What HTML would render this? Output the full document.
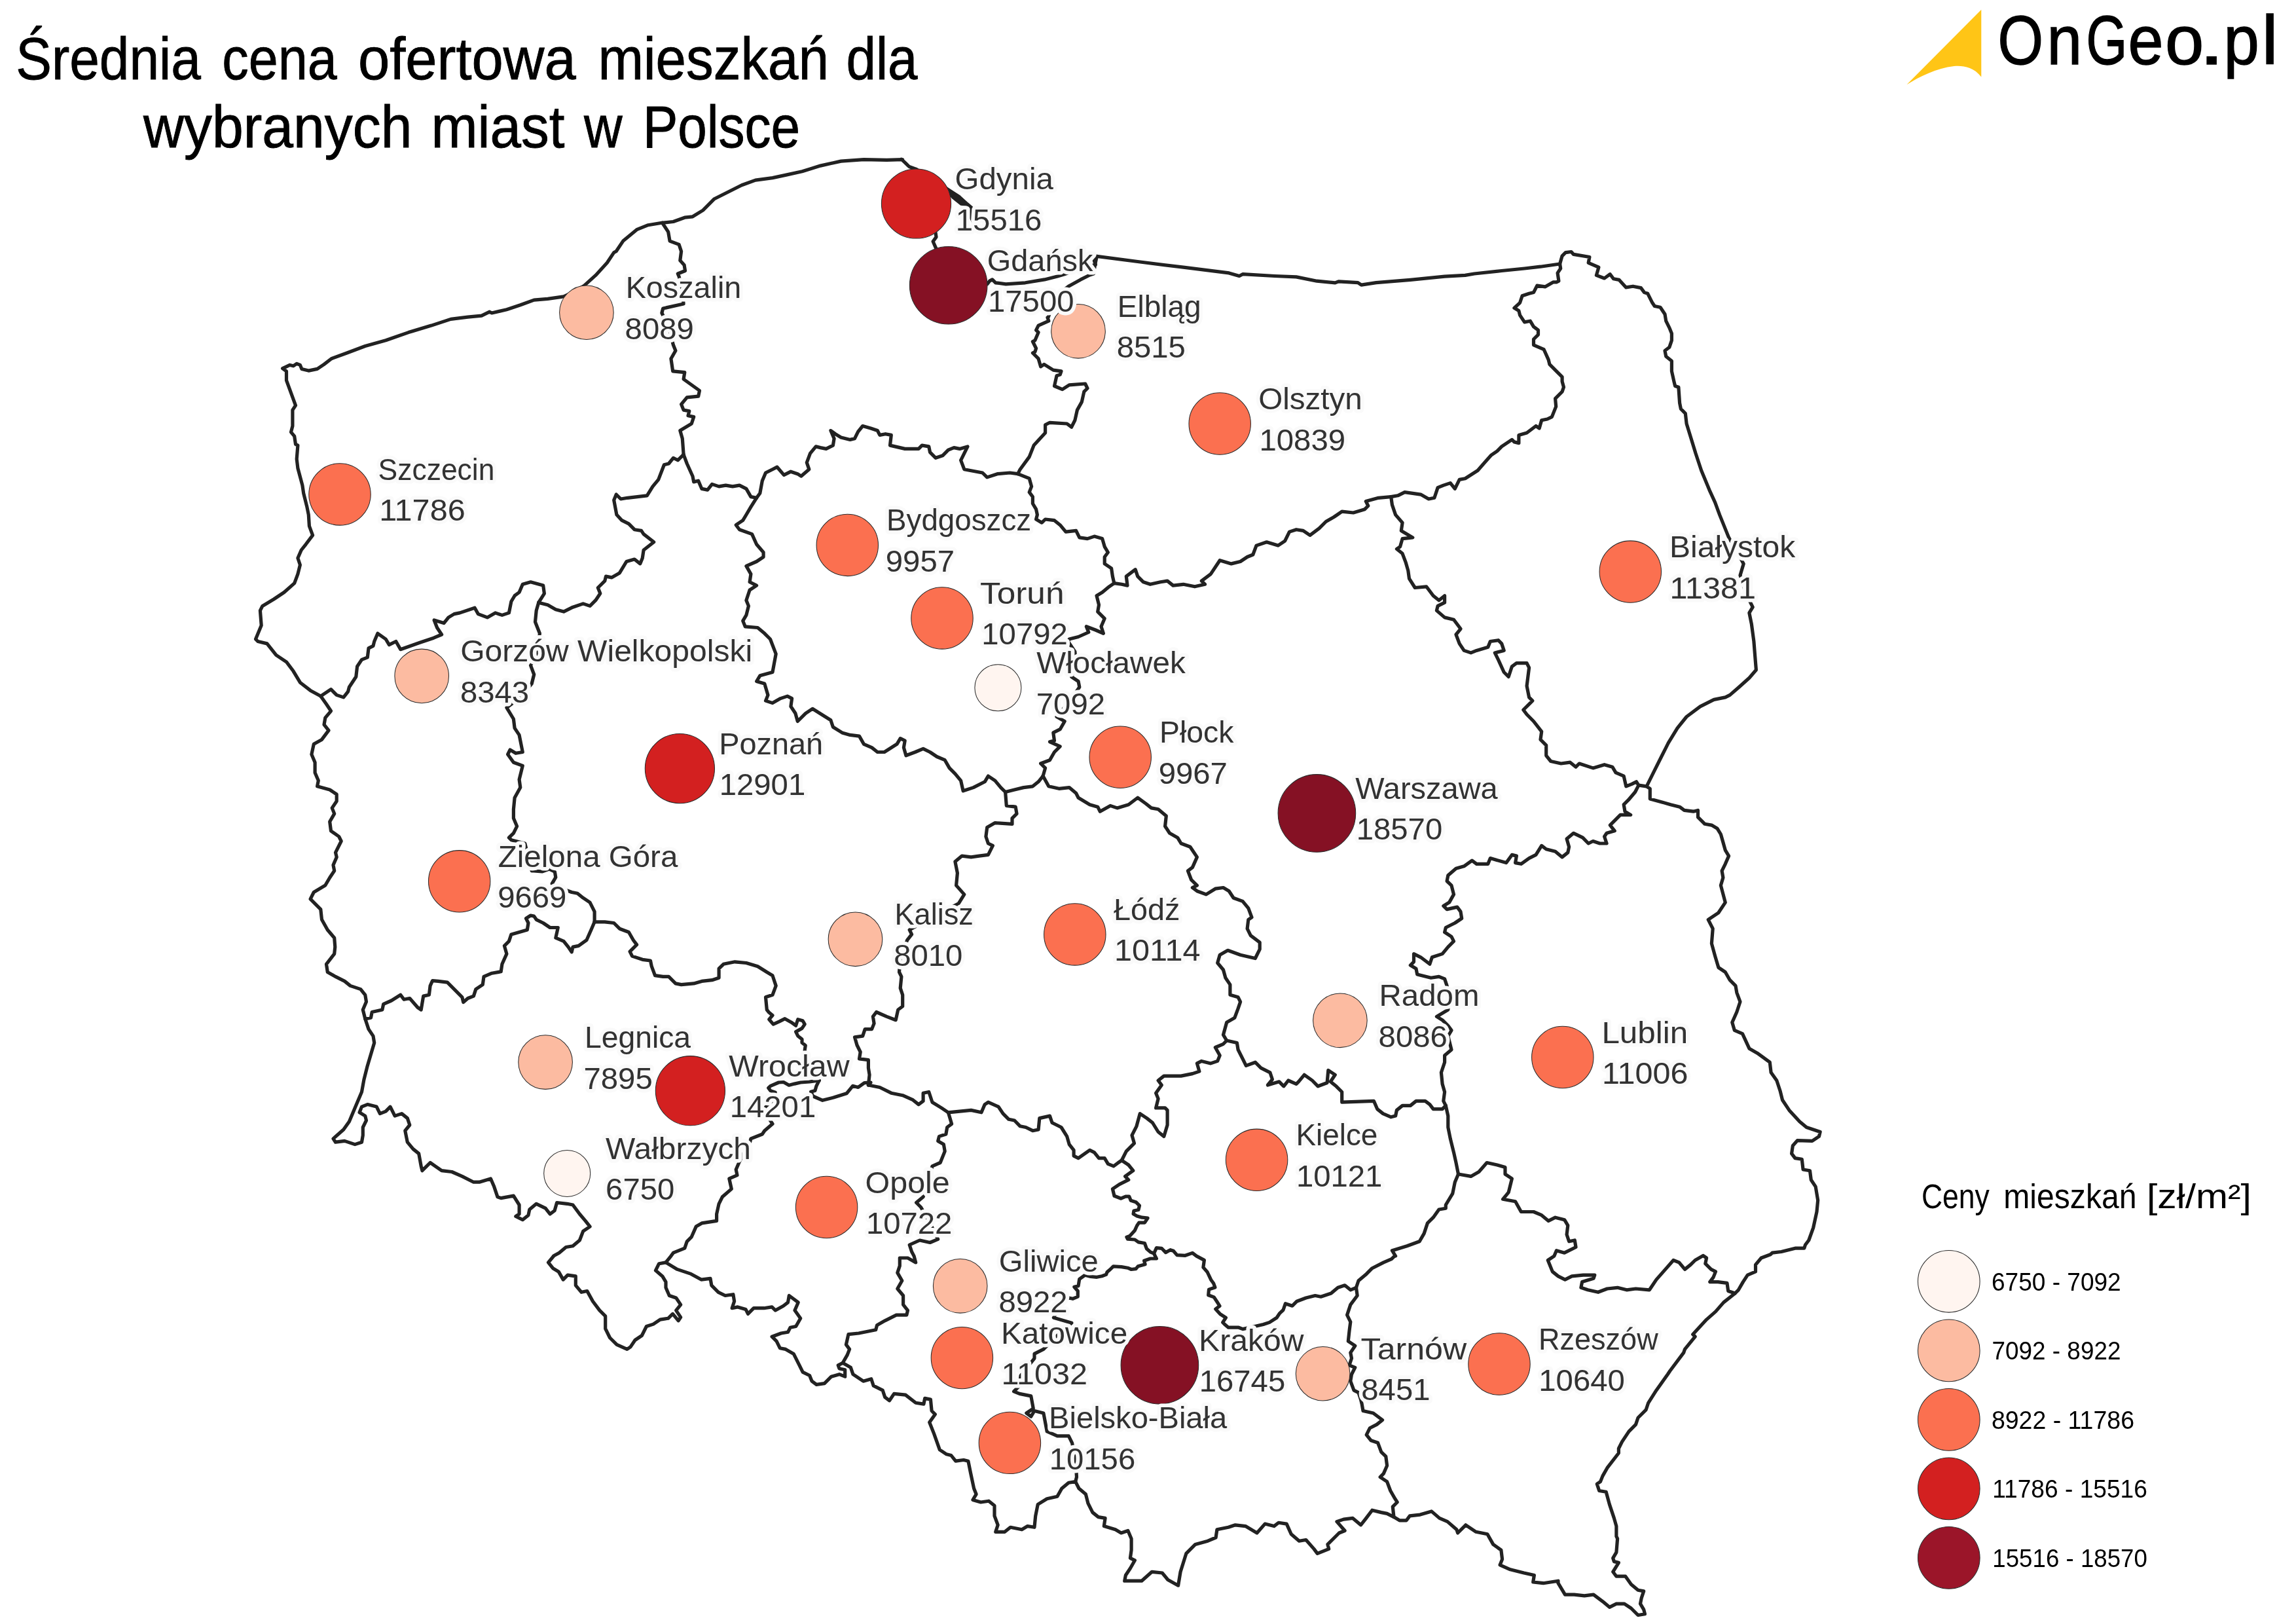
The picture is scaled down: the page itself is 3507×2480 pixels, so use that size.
<!DOCTYPE html>
<html lang="pl"><head><meta charset="utf-8"><title>Średnia cena ofertowa mieszkań dla wybranych miast w Polsce - OnGeo.pl</title>
<style>
html,body{margin:0;padding:0;background:#fff;}
body{width:3507px;height:2480px;overflow:hidden;}
svg{display:block;will-change:transform;}
text{font-family:"Liberation Sans","DejaVu Sans",sans-serif;}
.b{fill:none;stroke:#222;stroke-width:5.2;stroke-linejoin:round;stroke-linecap:round;}
.c{stroke:#2a2a2a;stroke-width:1.05;}
.lab{font-size:46px;fill:#323232;stroke:#fafafa;stroke-width:11px;stroke-linejoin:round;paint-order:stroke fill;}
.ttl{font-size:90px;fill:#000;stroke:#000;stroke-width:0.9px;}
.lt{font-size:51px;fill:#000;}
.li{font-size:38px;fill:#000;}
.logo{font-size:105px;fill:#000;stroke:#000;stroke-width:1.4px;}
</style></head><body>
<svg width="3507" height="2480" viewBox="0 0 3507 2480">
<g class="b">
<path d="M431.6 562.7 L437.5 559.9 L442.7 557.4 L448 558.8 L453.2 555.3 L458.4 557.4 L460.9 563.4 L471.3 566.1 L484.6 563.4 L495 556.4 L506.2 547.7 L529.9 539 L557.8 528.5 L589.2 519.8 L624 507.6 L658.9 497.1 L688.5 487.4 L714.6 484.2 L735.6 482.1 L747.8 476.2 L751.2 478 L773.9 472.7 L794.8 465.8 L815.7 458.1 L836.6 456.3 L861 452.9 L878.5 444.8 L892.4 436.1 L909.8 420.4 L927.3 401.3 L937.7 385.6 L941.2 383.8 L951.7 368.1 L972.6 350.7 L990 343.7 L1010.9 340.3 L1028.4 338.5 L1045.8 332.2 L1058 330.8 L1073.7 321.1 L1091.1 303.7 L1112 293.2 L1132.9 282.7 L1153.9 275.1 L1180 271.6 L1200.9 267.1 L1225.3 261.8 L1253.2 253.1 L1284.6 246.1 L1319.4 243.7 L1354.3 244.4 L1378.7 243.7 L1376.8 243.2 L1382.7 248.6 L1388.7 254.5 L1399.5 258.4 L1406.4 271.2 L1418.2 298.8 L1426.1 328.4 L1429 355 L1430 361.9 L1425.1 368.8 L1429 377.6 L1437.9 397.3 L1467.5 426.9 L1507.9 433.8 L1511.8 428.8 L1515.7 426.9 L1520.7 431.8 L1536.4 433.8 L1566 431.8 L1595.5 426.9 L1615.2 421.9 L1625.1 419 L1644.8 412.1 L1664.5 406.2 L1673.4 404.2 L1671.4 398.3 L1675.3 391.4 L1737.7 399.5 L1807.5 408.2 L1877.2 416.9 L1892.9 421.5 L1898.1 418.7 L1946.9 421.5 L1980 422.9 L2011.4 429.2 L2039.3 431.9 L2044.5 429.8 L2074.1 431.6 L2079.3 435.1 L2102 431.6 L2154.3 427.4 L2206.6 422.2 L2238 420.4 L2251.9 418 L2293.7 413.5 L2328.6 410 L2353 407.2 L2382.6 403 L2386.1 390.8 L2391.3 385.6 L2400 384.5 L2403.5 388.4 L2427.9 392.5 L2426.2 401.3 L2441.9 408.2 L2438.4 420.4 L2450.6 425 L2459.3 418.7 L2464.5 425.7 L2473.2 427.4 L2483.7 438.9 L2494.2 437.2 L2506.4 439.6 L2511.6 446.6 L2516.8 448.3 L2523.8 462.3 L2527.3 467.5 L2536 469.2 L2543 479.7 L2544.7 490.2 L2549.9 500.6 L2553.4 509.3 L2553.4 519.8 L2549.9 530.2 L2543 535.5 L2544.7 544.2 L2553.4 551.2 L2553.4 566.8 L2556.9 582.5 L2558.6 589.5 L2563.9 591.2 L2565.6 615.6 L2567.4 624.4 L2574.3 631.3 L2576.1 647 L2583.1 669.7 L2590 692.3 L2598.7 718.5 L2610.9 748.1 L2619.7 767.3 L2626.6 786.1 L2640.6 820.9 L2652.8 841.8 L2663.2 860.9 L2658 878.4 L2665 901 L2673.7 920.2 L2677.2 927.2 L2671.9 935.9 L2675.4 953.3 L2678.9 979.5 L2680.7 1002.1 L2682.4 1023 L2671.9 1035.2 L2656.3 1049.2 L2642.3 1061.4 L2635.3 1064.9 L2617.9 1068.4 L2597 1078.8 L2576.1 1094.5 L2562.1 1111.9 L2548.2 1134.6 L2537.7 1155.5 L2525.5 1179.9 L2515.1 1200.8 L2520.3 1204.3 L2520.3 1220 L2539.5 1225.2 L2551.7 1228.7 L2565.6 1232.2 L2572.6 1237.4 L2586.5 1239.2 L2593.5 1237.4 L2593.5 1247.9 L2604 1258.3 L2614.4 1260.1 L2623.1 1265.3 L2628.4 1274 L2631.9 1286.2 L2635.3 1298.4 L2640.6 1307.1 L2635.3 1319.3 L2630.1 1329.8 L2631.9 1340.2 L2628.4 1352.1 L2635.3 1378.1 L2624.9 1393.8 L2609.2 1404.3 L2616.2 1418.2 L2614.4 1440.9 L2619.7 1460.1 L2624.9 1477.5 L2635.3 1484.5 L2642.3 1496.7 L2651 1505.4 L2652.8 1515.8 L2658 1529.8 L2652.8 1545.5 L2645.8 1561.2 L2649.3 1573.4 L2661.5 1578.6 L2671.9 1601.2 L2684.1 1608.2 L2703.3 1622.2 L2705.1 1637.8 L2713.8 1650 L2719 1665.7 L2722.5 1679.7 L2732.9 1695.4 L2748.8 1712.8 L2759.3 1721.5 L2780.2 1728.5 L2778.5 1735.4 L2768 1742.4 L2745.3 1741.7 L2738.4 1749.4 L2736.6 1761.6 L2741.9 1768.6 L2752.3 1770.3 L2754.1 1786 L2764.5 1787.7 L2766.3 1801.7 L2773.2 1812.1 L2776.7 1833 L2775 1850.5 L2769.7 1874.9 L2762.8 1894 L2757.5 1901 L2755.8 1906.2 L2741.9 1906.2 L2720.9 1911.5 L2707 1913.2 L2704.2 1915.7 L2690.2 1921 L2681.5 1931.4 L2681.5 1941.9 L2669.3 1947.1 L2662.4 1957.6 L2655.4 1969.8 L2650.2 1975 L2632.7 1988.9 L2620.5 2002.9 L2606.6 2015.1 L2585.7 2037.7 L2589.2 2041.2 L2573.5 2060.4 L2571.7 2065.6 L2550.8 2093.5 L2547.3 2098.7 L2529.9 2123.2 L2517.7 2142.3 L2514.2 2152.8 L2502 2165 L2498.5 2175.4 L2488.1 2185.9 L2477.6 2201.6 L2472.4 2212 L2472.4 2219 L2454.9 2241.7 L2448 2253.9 L2444.5 2262.6 L2439.3 2266.1 L2442.7 2276.5 L2453.2 2278.3 L2458.4 2297.4 L2465.4 2318.4 L2468.9 2330.6 L2468.9 2346.2 L2470.6 2349.7 L2468.9 2370.6 L2463.7 2379.4 L2465.4 2384.6 L2472.4 2386.3 L2463.7 2400.3 L2468.9 2407.2 L2482.8 2407.2 L2491.5 2419.4 L2502 2428.2 L2510.7 2429.9 L2507.2 2440.4 L2505.5 2449.1 L2510.7 2457.8 L2512.5 2464.8 L2502 2466.5 L2491.5 2456 L2481.1 2449.1 L2468.9 2449.1 L2458.4 2454.3 L2448 2445.6 L2434 2435.1 L2420.1 2436.9 L2404.4 2435.1 L2390.5 2435.1 L2380 2417.7 L2380 2414.2 L2357.3 2417.7 L2341.7 2416 L2343.4 2405.5 L2327.7 2402 L2306.8 2396.8 L2291.1 2389.8 L2294.6 2381.1 L2292.9 2367.2 L2280.7 2358.4 L2271.9 2342.8 L2254.5 2339.3 L2238.8 2328.8 L2226.6 2341 L2224.9 2335.8 L2210.9 2323.6 L2198.7 2318.4 L2186.5 2307.9 L2169.1 2313.1 L2153.4 2314.9 L2148.2 2321.8 L2137.7 2321.8 L2129 2316.6 L2118.6 2311.4 L2109.8 2309.6 L2095.9 2306.2 L2085.4 2320.1 L2078.5 2328.8 L2066.3 2318.4 L2052.3 2320.1 L2041.9 2323.6 L2054.1 2337.5 L2045.4 2341 L2027.9 2358.4 L2029.7 2365.4 L2012.2 2372.4 L2007 2365.4 L1994.8 2351.5 L1984.4 2353.2 L1972.2 2342.8 L1965.2 2327.1 L1953 2325.3 L1946 2330.6 L1932.1 2327.1 L1919.9 2341 L1902.4 2330.6 L1886.8 2328.8 L1876.3 2332.3 L1858.9 2335.8 L1857.1 2348 L1844.9 2353.2 L1825.8 2358.4 L1811.8 2372.4 L1803.1 2400.3 L1799.6 2421.2 L1783.9 2412.5 L1775.2 2402 L1759.5 2400.3 L1743.8 2414.2 L1717.7 2414.2 L1719.4 2405.5 L1726.4 2395 L1733.4 2382.8 L1726.4 2379.4 L1728.1 2367.2 L1728.1 2349.7 L1722.9 2337.5 L1712.5 2341 L1703.7 2335.8 L1686.3 2330.6 L1688.1 2318.4 L1677.6 2316.6 L1668.9 2309.6 L1661.9 2295.7 L1658.4 2281.8 L1648 2273 L1642.7 2262.6 L1632.3 2264.3 L1621.8 2273 L1614.9 2285.2 L1599.2 2288.7 L1585.2 2297.4 L1581.7 2314.9 L1580 2332.3 L1580 2332.3 L1569.5 2330.6 L1560.8 2335.8 L1543.4 2332.3 L1534.7 2339.3 L1520.7 2339.3 L1524.2 2328.8 L1519 2314.9 L1519 2299.2 L1510.3 2292.2 L1498.1 2294 L1485.9 2290.5 L1491.1 2281.8 L1487.6 2273 L1482.4 2248.6 L1478.9 2231.2 L1471.9 2229.5 L1459.7 2231.2 L1452.8 2222.5 L1445.8 2220.8 L1435.3 2213.8 L1426.6 2189.4 L1419.7 2172 L1428.4 2159.8 L1423.1 2154.5 L1421.4 2137.1 L1412.7 2135.4 L1410.9 2144.1 L1398.7 2142.3 L1383.1 2130.1 L1365.6 2128.4 L1358.6 2138.8 L1351.7 2133.6 L1348.2 2123.2 L1334.2 2116.2 L1330.8 2105.7 L1318.6 2109.2 L1302.9 2098.7 L1299.4 2088.3 L1287.2 2081.3 L1280.2 2084.8 L1282 2090 L1290.7 2091.8 L1290.7 2102.2 L1282 2098.7 L1269.8 2102.2 L1259.3 2112.7 L1247.1 2114.4 L1240.1 2109.2 L1236.6 2100.5 L1226.2 2095.3 L1221 2084.8 L1212.2 2067.4 L1200 2060.4 L1191.3 2058.7 L1186.1 2048.2 L1179.1 2041.2 L1193.1 2036 L1203.5 2034.3 L1207 2027.3 L1215.7 2025.5 L1222.7 2013.3 L1214 2001.1 L1219.2 1988.9 L1205.3 1978.5 L1203.5 1988.9 L1196.6 1994.2 L1184.4 2001.1 L1179.1 1995.9 L1166.9 1997.7 L1151.2 1997.7 L1142.5 2006.4 L1139 1999.4 L1126.8 1995.9 L1118.1 1997.7 L1121.6 1987.2 L1119.9 1976.7 L1107.7 1978.5 L1097.2 1973.3 L1086.8 1962.8 L1085 1952.3 L1071.1 1954.1 L1055.4 1945.4 L1034.5 1938.4 L1017 1927.9 L1006.6 1929.7 L1001.4 1940.1 L1011.8 1948.9 L1017 1957.6 L1017 1966.3 L1022.3 1978.5 L1032.7 1982 L1039.7 1992.4 L1032.7 2001.1 L1039.7 2011.6 L1036.2 2016.8 L1027.5 2006.4 L1020.5 2013.3 L1008.3 2015.1 L997.9 2022.1 L987.4 2025.5 L980.4 2039.5 L970 2046.5 L963 2056.9 L957.8 2060.4 L942.1 2053.4 L931.6 2043 L924.7 2029 L924.7 2009.9 L915.9 2001.1 L905.5 1987.2 L896.8 1971.5 L888.1 1973.3 L879.3 1962.8 L879.3 1948.9 L867.1 1947.1 L860.2 1954.1 L853.2 1941.9 L844.5 1936.7 L837.5 1927.9 L846.2 1917.5 L845.4 1918.1 L854.1 1913.2 L864.5 1904.5 L875 1902.8 L885.4 1894 L890.7 1880.1 L901.1 1873.1 L894.2 1864.4 L885.4 1854 L875 1840 L866.3 1838.3 L850.6 1836.5 L847.1 1848.7 L840.1 1854 L833.2 1845.2 L819.2 1838.3 L808.8 1847 L807 1855.7 L798.3 1862.7 L787.8 1857.4 L793.1 1854 L793.1 1840 L784.4 1826.1 L765.2 1829.6 L760 1827.8 L754.7 1812.1 L749.5 1799.9 L732.1 1805.2 L723.4 1805.2 L705.9 1796.4 L690.2 1789.5 L674.6 1787.7 L657.1 1775.5 L644.9 1787.7 L643.2 1780.8 L639.7 1761.6 L631 1754.6 L622.3 1744.2 L618.8 1726.7 L625.8 1718 L622.3 1707.6 L613.6 1700.6 L603.1 1704.1 L596.1 1690.1 L589.2 1697.1 L580.4 1700.6 L575.2 1690.1 L561.3 1686.6 L552.5 1690.1 L549.1 1698.8 L557.8 1704.1 L559.5 1711 L554.3 1721.5 L554.3 1733.7 L552.5 1744.2 L542.1 1747.6 L526.4 1742.4 L512.5 1744.2 L509 1738.9 L524.7 1725 L533.4 1712.8 L542.1 1691.9 L552.5 1667.5 L556 1648.3 L561.3 1627.4 L566.5 1610 L571.7 1592.5 L570 1582.1 L563 1571.6 L557.8 1555.9 L554.3 1542 L559.5 1529.8 L557.8 1519.3 L550.8 1510.6 L535.1 1505.4 L526.4 1498.4 L512.5 1491.4 L500.3 1484.5 L498.5 1472.3 L510.7 1456.6 L511.8 1446.1 L510.7 1432.2 L500.3 1420 L491.5 1404.3 L489.8 1388.6 L482.8 1381.6 L474.1 1372.9 L479.3 1362.5 L496.8 1352 L503.7 1340.2 L510.7 1329.8 L509 1321.1 L514.2 1308.9 L512.5 1301.9 L521.2 1284.5 L517.7 1277.5 L505.5 1268.8 L503.7 1254.8 L510.7 1242.6 L507.2 1233.9 L514.2 1223.5 L514.2 1213 L503.7 1206 L484.6 1200.8 L486.3 1192.1 L481.1 1179.9 L481.1 1164.2 L475.9 1152 L479.3 1136.3 L491.5 1129.4 L502 1115.4 L495 1106.7 L496.8 1096.2 L505.5 1085.8 L498.5 1075.3 L489.8 1063.1 L474.1 1054.4 L458.4 1042.2 L448 1024.8 L437.5 1010.8 L421.8 1000.4 L407.9 982.9 L393.9 979.5 L390.5 976 L399.2 955.1 L397.4 932.4 L400.9 925.4 L418.3 915 L434 904.5 L449.7 890.6 L454.9 876.6 L458.4 862.7 L454.9 852.2 L460.2 840 L467.1 831.3 L477.6 817.4 L472.4 803.4 L471.3 786 L468.9 774.2 L463.7 753.3 L461.9 741.1 L454.9 715 L453.2 701 L454.9 680.1 L451.5 678.4 L449.7 666.2 L444.5 659.9 L446.9 650.5 L446.9 626.1 L451.5 619.1 L437.5 580.8 L437.5 566.8 L431.6 562.7 Z"/>
<path d="M1399.5 258.4 L1418.2 269.3 L1448.8 289.9 L1465.5 300.8 L1477.3 311.6 L1484.2 317.5 L1482.2 330.3 L1486.2 338.2"/>
<path d="M1675.3 391.4 L1672.4 405.2 L1670.4 418 L1664.5 420 L1650.7 426.9 L1633 436.7 L1617.2 448.5 L1607.4 466.3 L1601.4 484"/>
<path d="M1011.6 340.3 L1020.7 354.2 L1023.1 368.1 L1037.1 373.4 L1040.6 383.8 L1038.8 397.8 L1045.1 404.7 L1046.5 413.5 L1035.3 418 L1037.1 422.2 L1042.3 443.1 L1044.1 464 L1012.7 471 L1010.9 478 L1021.4 498.9 L1028.4 526.8 L1031.9 535.5 L1024.9 547.7 L1027.7 566.8 L1045.8 568.6 L1044.1 579 L1068.5 596.5 L1066.7 605.2 L1049.3 606.9 L1040.6 617.4 L1044.1 626.1 L1052.8 627.8 L1051 634.8 L1059.7 636.6 L1056.3 647 L1038.8 657.5 L1042.3 669.7 L1044.1 694.1"/>
<path d="M1044.1 694.1 L1035.3 702.8 L1028.4 699.3 L1021.4 708 L1014.4 709.8 L1005.7 732.4 L997 742.9 L988.3 756.8 L958.6 760.3 L948.2 762 L941.2 755.1 L937.7 763.8 L941.9 786.1 L949.9 794.7 L960.4 799.9 L969.1 808.7 L979.6 810.4 L983.1 815.6 L998.7 827.8 L983.1 840 L981.3 852.2 L977.8 860.9 L969.1 854 L956.9 857.5 L946.4 874.9 L934.2 881.9 L925.5 880.1 L923.8 887.1 L913.3 897.5 L916.8 906.3 L909.8 916.7 L901.1 925.4 L890.7 921.9 L875 927.2 L861 934.1 L848.8 930.7 L836.6 923.7 L822.7 920.2"/>
<path d="M822.7 920.2 L831.4 906.3 L829.7 894.1 L810.5 888.8 L798.3 892.3 L793.1 904.5 L786.1 909.7 L780.9 918.5 L777.4 935.9 L766.9 939.4 L756.5 935.9 L744.3 942.9 L730.3 937.6 L725.1 928.2 L702.4 935.9 L693.7 937.6 L685 942.9 L678 951.6 L663.1 947 L667.6 958.5 L674.6 969 L662.4 974.2 L641.4 981.2 L611.8 991.7 L604.8 979.5 L594.4 984.7 L589.2 976 L576.9 967.3 L571.7 979.5 L570 986.4 L563 989.9 L561.3 1003.9 L552.5 1007.4 L545.6 1017.8 L543.8 1033.5 L533.4 1049.2 L531.6 1056.2 L524.7 1064.9 L514.2 1061.4 L505.5 1052.7 L489.8 1063.1"/>
<path d="M822.7 920.2 L819.2 932.4 L817.5 949.8 L824.4 967.3 L821 995.2 L810.5 1016.1 L815.7 1030 L812.2 1044 L794.8 1064.9 L773.9 1080.6 L784.4 1098 L786.1 1111.9 L793.1 1122.4 L798.3 1148.5 L787.8 1150.3 L779.1 1145 L775.6 1152 L784.4 1164.2 L798.3 1169.4 L793.1 1190.4 L794.8 1202.6 L786.1 1218.2 L784.4 1235.7 L784.4 1249.6 L789.6 1261.8 L784.4 1272.3 L777.4 1279.2 L780.9 1282.7 L801.8 1288 L807 1308.9 L812.2 1329.8 L815.4 1329.9 L828 1331 L839.1 1327.1 L847.4 1331.3 L848.8 1339.7 L843.2 1349.4 L850 1356 L861 1358 L873.2 1362.5 L882 1364.2 L890.7 1371.2 L901.1 1378.1 L908.1 1392.1 L908.1 1407.8"/>
<path d="M557.8 1555.9 L566.5 1554.2 L568.2 1545.5 L583.9 1542 L585.7 1533.3 L597.9 1528 L611.8 1519.3 L617 1526.3 L625.8 1524.5 L638 1538.5 L643.2 1542 L646.7 1521.1 L655.4 1519.3 L657.1 1505.4 L660.6 1497.7 L669.3 1498.4 L683.3 1500.1 L695.5 1512.3 L705.9 1522.8 L707.7 1530.5 L714.6 1524.5 L723.4 1521.1 L726.8 1510.6 L737.3 1503.6 L739 1491.4 L751.2 1486.2 L765.2 1483.8 L766.9 1472.3 L773.9 1456.6 L770.4 1444.4 L777.4 1437.4 L780.9 1426.9 L793.1 1423.5 L805.3 1420 L807 1409.5 L803.5 1402.5 L810.5 1398 L815.7 1399.1 L819.2 1404.3 L829.7 1409.5 L840.1 1416.5 L852.3 1416.5 L848.8 1432.2 L861 1437.4 L868 1446.1 L873.2 1453.8 L875 1446.1 L883.7 1444.4 L895.9 1435.7 L902.9 1420 L908.1 1407.8"/>
<path d="M908.1 1407.8 L923.8 1407.8 L937.7 1409.5 L946.4 1418.2 L960.4 1423.5 L967.4 1435.7 L972.6 1442.6 L962.1 1453.1 L965.6 1460.1 L981.3 1465.3 L993.5 1467 L995.3 1475.7 L1000.5 1489.7 L1012.7 1491.4 L1021.4 1491.4 L1031.9 1501.9 L1040.6 1503.6 L1059.7 1501.9 L1071.9 1498.4 L1087.6 1496.7 L1098.1 1493.2 L1098.1 1479.2 L1105.1 1472.3 L1122.5 1468.8 L1139.9 1470.5 L1157.3 1475.7 L1171.3 1484.5 L1180 1489.7 L1185.2 1505.4 L1180 1519.3 L1169.5 1522.8 L1171.3 1542 L1174.8 1546.3 L1180 1550.5 L1174.8 1556.7 L1181.1 1564.1 L1190.5 1559.9 L1198.9 1555.7 L1208.3 1560.9 L1215.6 1566.2 L1218.7 1556.7 L1226.1 1558.8 L1229.2 1564.1 L1225 1570.4 L1215.6 1575.6 L1218.7 1581.9 L1225 1587.1 L1225 1592.3 L1230.3 1596.5 L1229.2 1603.8 L1235.5 1623.7 L1244.9 1642.6 L1251.2 1649.9"/>
<path d="M1251.2 1649.9 L1236.5 1652 L1222.9 1653 L1213.5 1655.1 L1205.1 1657.2 L1196.8 1652.5 L1189.4 1653 L1176.9 1658.3 L1173.7 1661.4 L1176.9 1665.6 L1184.2 1668.2 L1182.1 1676.1 L1177.9 1684.4 L1169.5 1690.7 L1172.7 1705.4 L1180 1716.3 L1167.8 1726.7 L1164.3 1732 L1146.9 1738.9 L1145.1 1745.9 L1136.4 1759.8 L1129.5 1773.8 L1124.2 1786 L1126 1794.7 L1113.8 1799.9 L1117.3 1815.6 L1103.3 1827.8 L1098.1 1838.3 L1094.6 1854 L1094.6 1864.4 L1071.9 1867.9 L1063.2 1873.1 L1056.3 1888.8 L1049.3 1895.8 L1045.8 1906.2 L1028.4 1913.2 L1024.9 1918.1 L1017 1927.9"/>
<path d="M1251.2 1649.9 L1247 1658.3 L1244.9 1665.6 L1238.6 1667.2 L1241.8 1674 L1256.4 1680.3 L1273.2 1676.1 L1293.1 1669.8 L1302.5 1658.3 L1310.8 1660.4 L1320.3 1653.6 L1330 1653 L1326.4 1657"/>
<path d="M1535.6 1209.5 L1537.3 1230.4 L1551.2 1232.2 L1553 1242.6 L1546 1249.6 L1546 1258.3 L1519.9 1256.6 L1507.7 1263.6 L1505.9 1277.5 L1509.4 1288 L1516.4 1291.4 L1509.4 1305.4 L1495.5 1307.1 L1483.3 1308.9 L1469.3 1307.1 L1458.9 1315.8 L1462.4 1333.3 L1460.6 1352.1 L1472.8 1365.9 L1464.1 1379.9 L1424 1400.8 L1389.2 1420 L1392.6 1426.9 L1385.7 1435.7 L1375.2 1463.5 L1373.5 1484.5 L1376.9 1491.4 L1375.2 1508.9 L1378.7 1519.3 L1378.7 1536.7 L1371.7 1542 L1368.2 1557.7 L1354.3 1552.4 L1338.6 1545.5 L1333.4 1552.4 L1335.1 1562.9 L1331.6 1571.6 L1321.2 1571.6 L1317.7 1582.1 L1305.5 1583.8 L1309 1596 L1314.2 1606.5 L1312.5 1616.9 L1326.4 1618.7 L1326.4 1630.9 L1328.1 1641.3 L1326.4 1657"/>
<path d="M1326.4 1657 L1343.8 1660.5 L1361.3 1669.2 L1378.7 1672.7 L1394.4 1679.7 L1403.1 1686.6 L1410.1 1681.4 L1410.1 1669.2 L1418.8 1667.5 L1424 1683.2 L1438 1691.9 L1448.4 1698.8"/>
<path d="M1448.4 1698.8 L1453.6 1716.3 L1446.7 1721.5 L1444.9 1732 L1434.5 1735.4 L1432.7 1742.4 L1441.4 1747.6 L1443.2 1758.1 L1436.2 1775.5 L1424 1780.8 L1417 1805.2 L1410.1 1827.8 L1399.6 1836.5 L1406.6 1843.5 L1420.5 1867.9 L1432.7 1892.3 L1420.5 1897.5 L1404.8 1894 L1389.2 1901 L1392.6 1911.5 L1396.1 1918.1 L1398.7 1927.9 L1386.5 1921 L1374.3 1921 L1374.3 1933.2 L1370.8 1943.6 L1377.8 1955.8 L1370.8 1968 L1379.6 1978.5 L1379.6 1992.4 L1386.5 2001.1 L1384.8 2008.1 L1369.1 2008.1 L1351.7 2016.8 L1339.5 2023.8 L1337.7 2030.8 L1311.6 2036 L1295.9 2037.7 L1292.4 2053.4 L1297.6 2060.4 L1294.2 2069.1 L1287.2 2081.3"/>
<path d="M1448.4 1698.8 L1465.8 1697.1 L1483.3 1695.4 L1499 1698.8 L1504.2 1686.6 L1509.4 1683.2 L1525.1 1690.1 L1532.1 1700.6 L1540.8 1709.3 L1549.5 1711 L1558.2 1719.8 L1566.9 1721.5 L1577.4 1726.7 L1586.1 1725 L1587.8 1707.6 L1603.5 1704.1 L1607 1714.5 L1621 1721.5 L1629.7 1735.4 L1633.2 1747.6 L1640.1 1756.4 L1640.1 1765.1 L1647.1 1768.6 L1664.5 1756.4 L1671.5 1759.8 L1678.5 1768.6 L1687.2 1768.6 L1692.4 1777.3 L1701.1 1780.8 L1708.1 1775.5 L1713.3 1772"/>
<path d="M1713.3 1772 L1720.3 1758.1 L1732.5 1745.9 L1729 1733.7 L1736 1719.8 L1741.2 1700.6 L1751.7 1707.6 L1760.4 1714.5 L1769.1 1728.5 L1777.8 1735.4 L1783.1 1718 L1783.1 1695.4 L1779.6 1691.9 L1765.6 1691.9 L1769.1 1677.9 L1765.6 1669.2 L1774.3 1657 L1769.1 1650 L1777.8 1643.1 L1804 1643.1 L1821.4 1639.6 L1831.9 1636.1 L1828.4 1623.9 L1835.3 1620.4 L1849.3 1623.9 L1859.7 1620.4 L1863.2 1611.7 L1856.3 1599.5 L1868.5 1594.3 L1873.7 1589"/>
<path d="M1873.7 1589 L1868.5 1580.3 L1873.7 1561.2 L1885.9 1554.2 L1891.1 1540.2 L1894.6 1529.8 L1891.1 1522.8 L1878.9 1519.3 L1878.9 1503.6 L1871.9 1493.2 L1868.5 1481 L1859.7 1470.5 L1863.2 1458.3 L1875.4 1451.3 L1894.6 1458.3 L1917.3 1463.5 L1924.2 1449.6 L1924.2 1439.1 L1910.3 1428.7 L1905.1 1418.2 L1906.8 1404.3 L1912 1400.8 L1906.8 1386.9 L1898.1 1376.4 L1884.1 1371.2 L1877.2 1360.7 L1868.5 1355.5 L1856.3 1357.2 L1842.3 1365.9 L1828.4 1360.7 L1821.4 1355.5 L1828.4 1352.1 L1819.7 1343.7 L1814.4 1329.8 L1821.4 1324.6 L1828.4 1308.9 L1817.9 1293.2 L1804 1288 L1798.7 1279.2 L1786.5 1272.3 L1779.6 1261.8 L1781.3 1246.1 L1769.1 1235.7 L1758.6 1233.9 L1749.9 1227 L1737.7 1218.2 L1723.8 1228.7 L1706.4 1233.9 L1695.9 1230.4 L1680.2 1239.2 L1676.7 1232.2 L1664.5 1228.7 L1647.1 1218.2 L1643.6 1211.3 L1633.2 1202.6 L1617.5 1204.3 L1601.8 1200.8 L1593.1 1185.1"/>
<path d="M1593.1 1185.1 L1586.1 1193.8 L1577.4 1200.8 L1563.4 1202.6 L1549.5 1206 L1535.6 1209.5 L1528.6 1202.6 L1519.9 1192.1 L1509.4 1185.1 L1504.2 1193.8 L1486.8 1202.6 L1471.1 1207.8 L1467.6 1192.1 L1458.9 1181.6 L1450.2 1172.9 L1443.2 1160.7 L1431 1155.5 L1420.5 1148.5 L1410.1 1143.3 L1397.9 1148.5 L1383.9 1153.8 L1380.4 1141.6 L1382.2 1131.1 L1375.2 1127.6 L1370 1136.3 L1350.8 1148.5 L1340.3 1148.5 L1331.6 1141.6 L1319.4 1136.3 L1312.5 1124.1 L1298.5 1122.4 L1286.3 1118.9 L1272.4 1110.2 L1268.9 1099.7 L1254.9 1091 L1241 1082.3 L1230.5 1089.3 L1218.3 1101.5 L1214.9 1089.3 L1207.9 1078.8 L1209.6 1066.6 L1202.7 1063.1 L1192.2 1066.6 L1180 1073.6 L1169.5 1070.1 L1173 1061.4 L1167.8 1044 L1155.6 1040.5 L1160.8 1031.8 L1180 1026.5 L1185.2 998.6 L1176.5 976 L1167.8 967.3 L1157.3 958.5 L1138.2 956.8 L1134.7 948.1 L1139.9 939.4 L1143.4 925.4 L1139.9 916.7 L1145.1 901 L1155.6 894.1 L1145.1 888.8 L1146.9 876.6 L1139.9 864.4 L1155.6 857.5 L1166.1 850.5 L1166.1 843.5 L1155.6 831.3 L1148.6 815.6 L1129.5 808.7 L1124.2 801.7 L1134.7 794.7 L1139.9 786 L1146.9 774.2 L1155.6 760.3"/>
<path d="M1044.1 694.1 L1049.3 708 L1058 727.2 L1059.7 735.9 L1066.7 734.2 L1071.9 746.4 L1080.7 748.1 L1087.6 739.4 L1098.1 742.9 L1108.5 741.1 L1119 742.9 L1129.5 741.1 L1139.9 746.4 L1146.9 758.6 L1155.6 760.3"/>
<path d="M1155.6 760.3 L1160.8 753.3 L1164.3 734.2 L1169.5 722 L1180 716.7 L1187 713.2 L1197.4 725.4 L1207.9 720.2 L1218.3 723.7 L1223.6 727.2 L1235.8 716.7 L1232.3 706.3 L1237.5 692.3 L1246.2 681.9 L1253.2 683.6 L1261.9 685.4 L1272.4 680.1 L1274.1 669.7 L1268.9 657.5 L1275.9 662.7 L1284.6 667.9 L1298.5 671.4 L1305.5 669.7 L1310.7 659.2 L1317.7 650.5 L1329.9 654 L1340.3 657.5 L1343.8 664.4 L1352.5 662.7 L1361.3 664.4 L1359.5 680.1 L1382.2 685.4 L1403.1 685.4 L1408.3 680.1 L1418.8 681.9 L1420.5 690.6 L1429.2 699.3 L1439.7 695.8 L1448.4 687.1 L1457.1 683.6 L1465.8 685.4 L1478 681.9 L1467.6 702.8 L1472.8 716.7 L1500.7 722 L1507.7 728.9 L1523.4 723.7 L1542.5 722 L1554.7 723.7"/>
<path d="M1600 484.9 L1601.8 490.2 L1586.1 497.1 L1582.6 504.1 L1586.1 507.6 L1580.9 519.8 L1577.4 521.5 L1582.6 532 L1580.9 537.2 L1577.4 539 L1586.1 547.7 L1589.6 559.9 L1594.8 556.4 L1608.8 565.1 L1621 566.8 L1619.2 572.1 L1614 573.8 L1610.5 589.5 L1622.7 594.7 L1633.2 587.8 L1657.6 586 L1661 593 L1655.8 598.2 L1652.3 613.9 L1645.4 626.1 L1641.9 641.8 L1636.6 652.2 L1629.7 647 L1603.5 645.3 L1596.6 648.8 L1596.6 661 L1579.1 680.1 L1572.2 697.6 L1558.2 716.7 L1554.7 723.7"/>
<path d="M1554.7 723.7 L1563.4 727.2 L1572.2 730.7 L1575.6 742.9 L1572.2 751.6 L1577.4 758.6 L1577.4 769 L1582.6 777.7 L1584.4 786.1 L1582.6 793 L1591.3 798.2 L1596.6 793 L1610.5 794.7 L1619.2 801.7 L1627.9 812.1 L1643.6 810.4 L1648.8 820.9 L1661 822.6 L1671.5 819.1 L1683.7 822.6 L1687.2 834.8 L1692.4 843.5 L1687.2 850.5 L1687.2 860.9 L1697.6 867.9 L1699.4 880.1 L1701.8 890.6"/>
<path d="M1701.8 890.6 L1713.3 892.3 L1722 894.1 L1720.3 880.1 L1734.2 869.7 L1737.7 880.1 L1746.4 888.8 L1756.9 892.3 L1772.6 888.8 L1783.1 887.1 L1791.8 894.1 L1807.5 892.3 L1824.9 895.8 L1840.6 892.3 L1835.3 887.1 L1849.3 876.6 L1863.2 855.7 L1880.7 860.9 L1894.6 857.5 L1905.1 850.5 L1913.8 847 L1919 833.1 L1934.7 827.8 L1952.1 833.1 L1962.6 826.1 L1969.5 812.1 L1980 808.7 L1990.5 810.4 L2000.9 817.4 L2014.9 806.9 L2025.3 796.5 L2037.5 789.5 L2042.7 786 L2049.7 781.2 L2067.1 783 L2084.6 777.7 L2089.8 772.5 L2086.3 765.5 L2105.5 760.3 L2124.7 758.6"/>
<path d="M1701.8 890.6 L1694.2 895.8 L1683.7 904.5 L1675 909.7 L1678.5 923.7 L1676.7 934.1 L1687.2 944.6 L1682 956.8 L1685.4 967.3 L1673.2 962 L1659.3 956.8 L1662.8 965.5 L1647.1 972.5 L1633.2 976 L1631.4 979.5 L1641.9 995.2 L1643.6 1016.1 L1636.6 1033.5 L1647.1 1040.5 L1648.8 1049.2 L1633.2 1071.8 L1614 1094.5 L1626.2 1101.5 L1619.2 1113.7 L1608.8 1118.9 L1610.5 1131.1 L1603.5 1132.8 L1619.2 1139.8 L1610.5 1148.5 L1603.5 1160.7 L1589.6 1166 L1596.6 1172.9 L1593.1 1185.1"/>
<path d="M2382.6 403 L2383.7 410 L2379.1 416.9 L2380.9 429.2 L2377.4 430.9 L2372.2 430.9 L2360 437.9 L2347.8 436.1 L2342.5 446.6 L2335.6 448.3 L2325.1 451.8 L2321.6 462.3 L2312.9 470.3 L2319.9 474.5 L2321.6 481.4 L2328.6 491.9 L2337.3 490.2 L2342.5 498.9 L2349.5 504.1 L2349.5 511.1 L2342.5 518 L2342.5 526.8 L2358.2 533.7 L2365.2 549.4 L2366.9 556.4 L2375.6 565.1 L2386.1 575.6 L2386.1 582.5 L2388.5 591.2 L2386.1 598.2 L2375.6 608.7 L2376.7 620.9 L2370.4 636.6 L2363.4 640 L2354.7 641.8 L2351.2 654 L2346 650.5 L2332.1 661 L2319.9 664.4 L2319.9 676.6 L2312.9 674.9 L2309.4 671.4 L2293.7 681.9 L2286.8 688.8 L2278 694.8 L2269.3 704.5 L2257.1 718.5 L2238 730.7 L2229.2 732.4 L2222.3 746.4 L2215.3 737.6 L2204.8 741.1 L2196.1 744.6 L2190.9 760.3 L2182.2 762 L2170 755.1 L2145.6 751.6 L2135.1 756.8 L2124.7 758.6"/>
<path d="M2124.7 758.6 L2126.4 770.8 L2131.6 786.1 L2142.1 798.2 L2140.3 810.4 L2157.8 820.9 L2142.1 822.6 L2138.6 834.8 L2133.4 838.3 L2142.1 845.3 L2147.3 859.2 L2150.8 871.4 L2152.5 883.6 L2161.3 897.5 L2178.7 895.8 L2189.2 909.7 L2197.9 916.7 L2206.6 909.7 L2206.6 920.2 L2196.1 925.4 L2194.4 932.4 L2206.6 942.9 L2220.5 946.3 L2231 960.3 L2224 969 L2229.2 982.9 L2236.2 993.4 L2246.7 996.9 L2255.4 993.4 L2272.8 988.2 L2276.3 979.5 L2288.5 977.7 L2293.7 982.9 L2297.2 993.4 L2283.3 996.9 L2288.5 1007.4 L2297.2 1026.5 L2304.2 1033.5 L2309.4 1017.8 L2316.4 1012.6 L2332.1 1012.6 L2335.6 1019.6 L2332.1 1047.4 L2335.6 1064.9 L2340.8 1070.1 L2333.8 1077.1 L2326.8 1084 L2332.1 1091 L2342.5 1101.5 L2354.7 1117.2 L2353 1129.4 L2361.7 1138.1 L2361.7 1153.8 L2368.7 1162.5 L2384.4 1166 L2398.3 1164.2 L2407 1171.2 L2412.2 1166 L2433.2 1172.9 L2450.6 1167.7 L2462.8 1171.2 L2468 1179.9 L2480.2 1185.1 L2483.7 1200.8 L2492.4 1197.3 L2499.4 1193.8 L2502.9 1199.1 L2515.1 1200.8"/>
<path d="M2502.9 1199.1 L2497.6 1209.5 L2487.2 1221.7 L2480.2 1228.7 L2482 1239.2 L2490.7 1244.4 L2475 1244.4 L2466.3 1253.1 L2459.3 1260.1 L2466.3 1268.8 L2454.1 1272.3 L2450.6 1277.5 L2454.1 1288 L2443.6 1288 L2433.2 1284.5 L2426.2 1288 L2417.5 1279.2 L2403.5 1272.3 L2393.1 1281 L2396.6 1293.2 L2394.8 1301.9 L2386.1 1308.9 L2375.6 1300.2 L2361.7 1296.7 L2354.7 1291.4 L2346 1305.4 L2335.6 1310.6 L2323.4 1319.3 L2314.6 1317.6 L2316.4 1307.1 L2309.4 1305.4 L2300.7 1317.6 L2276.3 1310.6 L2272.8 1319.3 L2255.4 1319.3 L2248.4 1314.1 L2236.2 1322.8 L2224 1326.3 L2211.8 1336.8 L2210.1 1345.5 L2217 1352.1 L2220.5 1365.9 L2213.6 1378.1 L2204.8 1383.4 L2210.1 1388.6 L2225.8 1385.1 L2231 1392.1 L2232.7 1402.5 L2222.3 1409.5 L2208.3 1416.5 L2206.6 1423.5 L2217 1430.4 L2220.5 1437.4 L2211.8 1446.1 L2203.1 1456.6 L2187.4 1461.8 L2183.9 1472.3 L2170 1461.8 L2159.5 1456.6 L2159.5 1468.8 L2154.3 1474 L2163 1479.2 L2164.7 1487.9 L2185.7 1493.2 L2197.9 1491.4 L2206.6 1494.9 L2210.1 1505.4 L2213.6 1526.3 L2211.8 1542 L2194.4 1552.4 L2203.1 1557.7 L2211.8 1566.4 L2217 1573.4 L2211.8 1582.1 L2217 1603 L2206.6 1611.7 L2206.6 1622.2 L2201.4 1637.8 L2203.1 1655.3 L2206.6 1667.5 L2204.8 1681.4 L2208.3 1688.4"/>
<path d="M2208.3 1688.4 L2203.1 1693.6 L2189.2 1693.6 L2183.9 1686.6 L2176.9 1681.4 L2163 1681.4 L2154.3 1688.4 L2142.1 1688.4 L2133.4 1695.4 L2131.6 1704.1 L2124.7 1705.8 L2112.5 1700.6 L2103.7 1693.6 L2098.5 1681.4 L2049.7 1683.2 L2049.7 1667.5 L2041 1658.8 L2032.3 1651.8 L2039.3 1641.3 L2028.8 1634.4 L2027.1 1653.5 L2013.1 1658.8 L2004.4 1650 L1992.2 1641.3 L1983.5 1651.8 L1980 1655.3 L1967.8 1650 L1960.8 1658.8 L1953.9 1651.8 L1936.4 1657 L1943.4 1648.3 L1939.9 1637.8 L1926 1630.9 L1917.3 1622.2 L1903.3 1627.4 L1898.1 1616.9 L1891.1 1603 L1889.4 1592.5 L1873.7 1589"/>
<path d="M2208.3 1688.4 L2211.8 1704.1 L2211.8 1721.5 L2215.3 1738.9 L2220.5 1759.8 L2224 1775.5 L2227.5 1793"/>
<path d="M2227.5 1793 L2246.7 1796.4 L2258.9 1789.5 L2271.1 1775.5 L2286.8 1779 L2299 1782.5 L2299 1793 L2309.4 1799.9 L2304.2 1820.8 L2295.5 1831.3 L2314.6 1834.8 L2323.4 1850.5 L2342.5 1850.5 L2354.7 1855.7 L2365.2 1864.4 L2375.6 1859.2 L2389.6 1862.7 L2394.8 1871.4 L2393.1 1885.3 L2396.6 1895.8 L2405.3 1894 L2407 1904.5 L2389.6 1913.2 L2377.4 1909.7 L2373.9 1918.1 L2364.3 1924.5 L2371.3 1941.9 L2380 1948.9 L2390.5 1954.1 L2400.9 1948.9 L2418.3 1947.1 L2435.8 1947.1 L2434 1952.3 L2416.6 1957.6 L2414.9 1966.3 L2425.3 1969.8 L2441 1973.3 L2454.9 1968 L2470.6 1966.3 L2484.6 1969.8 L2498.5 1968 L2519.4 1969.8 L2529.9 1954.1 L2543.8 1938.4 L2556 1924.5 L2564.7 1927.9 L2573.5 1938.4 L2582.2 1931.4 L2589.2 1924.5 L2601.4 1917.5 L2606.6 1921 L2604.8 1929.7 L2613.6 1938.4 L2620.5 1941.9 L2617 1950.6 L2611.8 1957.6 L2624 1957.6 L2638 1959.3 L2639.7 1971.5 L2650.2 1975"/>
<path d="M2227.5 1793 L2222.3 1805.2 L2218.8 1822.6 L2208.3 1840 L2208.3 1845.2 L2197.9 1847 L2189.2 1859.2 L2180.4 1867.9 L2175.2 1883.6 L2168.2 1895.8 L2149.1 1902.8 L2126.4 1909.7 L2131.6 1918.1 L2130.8 1917.5 L2125.5 1922.7 L2113.3 1927.9 L2095.9 1936.7 L2087.2 1945.4 L2075 1955.8 L2071.5 1966.3"/>
<path d="M1713.3 1772 L1723.8 1779 L1730.8 1787.7 L1718.6 1796.4 L1723.8 1801.7 L1709.8 1808.6 L1699.4 1815.6 L1700.5 1820 L1702 1826.3 L1712.3 1830.2 L1719.3 1827.1 L1724.8 1827.1 L1727.2 1833.3 L1735 1835.7 L1740.5 1841.2 L1738.9 1847.5 L1731.9 1849 L1731.1 1853.8 L1736.6 1856.9 L1744.4 1859.2 L1753.1 1860 L1748.4 1867.1 L1739.7 1867.1 L1736.6 1871.8 L1733.4 1878.9 L1725.6 1887.5 L1720.9 1889.1 L1722.5 1892.2 L1733.4 1893 L1738.9 1896.9 L1748.4 1898.5 L1751.5 1907.1 L1757 1911.8 L1762.5 1914.2"/>
<path d="M1762.5 1914.2 L1766.4 1905.6 L1774.3 1906.3 L1780.5 1912.6 L1787.6 1908.7 L1792.3 1910.3 L1797.8 1916.6 L1810.4 1917.3 L1821.4 1913.4 L1827.6 1918.1 L1839.4 1924.4 L1837.9 1935.4 L1844.1 1942.5 L1849.6 1954.2 L1853.6 1959.7 L1855.9 1966 L1846.5 1969.1 L1845.7 1977.8 L1854.3 1980.9 L1859 1988 L1863 1994.3 L1856.7 1999 L1863.8 2006.8 L1872.4 2012.3 L1867.7 2019.4 L1871.6 2023.3 L1876.3 2027.2 L1892 2027.2 L1898.3 2029.6 L1915.6 2025.7 L1929.7 2022.5 L1939.1 2019.4 L1950.1 2012.3 L1954.8 2005.3 L1960 2000.5 L1963.4 1990.7 L1973.9 1994.2 L1980.9 1987.2 L1994.8 1982 L2008.8 1978.5 L2017.5 1980.2 L2033.2 1975 L2043.6 1966.3 L2054.1 1962.8 L2062.8 1969.8 L2071.5 1966.3"/>
<path d="M1762.5 1914.2 L1766.4 1922 L1757 1922 L1747.6 1925.2 L1749.1 1930.7 L1738.2 1933.8 L1735 1937.7 L1728 1938.5 L1722.5 1936.2 L1713 1934.6 L1700.5 1933.8 L1695.8 1938.5 L1691.1 1942.5 L1689.5 1946.4 L1683.2 1948.7 L1675.4 1950.3 L1665.9 1949.5 L1657.3 1947.2 L1648.7 1953.4 L1647.1 1963.7 L1640.8 1965.2 L1646.3 1971.5 L1646.3 1980.1 L1638.5 1983.3 L1631.4 1981.7 L1618.8 1995.8 L1609.4 2012.3 L1636.9 2020.2 L1614.9 2039.5 L1593.9 2060.4 L1580 2067.4 L1580 2074.3 L1559.1 2100.5 L1557.3 2116.2 L1548.6 2124.9 L1557.3 2128.4 L1574.8 2131.9 L1578.3 2151 L1567.8 2158 L1574.8 2163.2 L1580 2154.5 L1593.9 2158 L1599.2 2185.9 L1614.9 2192.9 L1632.3 2192.9 L1637.5 2203.3 L1642.7 2227.7 L1644.5 2255.6 L1642.7 2262.6"/>
<path d="M2071.5 1966.3 L2073.2 1978.5 L2062.8 1992.4 L2057.6 2008.1 L2062.8 2018.6 L2061 2032.5 L2059.3 2048.2 L2069.8 2055.2 L2062.8 2065.6 L2064.5 2074.3 L2061 2084.8 L2069.8 2088.3 L2064.5 2098.7 L2062.8 2109.2 L2068 2123.2 L2075 2126.6 L2078.5 2137.1 L2080.2 2144.1 L2082 2154.5 L2097.6 2158 L2111.6 2168.5 L2102.9 2175.4 L2092.4 2180.7 L2087.2 2191.1 L2094.2 2199.8 L2104.6 2203.3 L2109.8 2217.3 L2116.8 2224.2 L2118.6 2238.2 L2113.3 2250.4 L2108.1 2255.6 L2118.6 2262.6 L2123.8 2276.5 L2130.8 2288.7 L2134.2 2294 L2127.3 2300.9 L2129 2316.6"/>
</g>
<path d="M1446.8 289 L1465.5 300.8 L1477.3 311.6 L1484.2 317.5 L1478.3 313.6 L1467.5 312.2 L1455.6 302.7 L1449.7 295.9 Z" fill="#222" stroke="#222" stroke-width="3" stroke-linejoin="round"/>
<g class="c">
<circle cx="1399.5" cy="311" r="53.1" fill="#d32020"/>
<circle cx="1448.7" cy="435.7" r="59.3" fill="#851124"/>
<circle cx="895.9" cy="477.2" r="41.3" fill="#fcbba1"/>
<circle cx="1647" cy="505.8" r="41.3" fill="#fcbba1"/>
<circle cx="1863.2" cy="647" r="47.2" fill="#fb7050"/>
<circle cx="519" cy="754.9" r="47.2" fill="#fb7050"/>
<circle cx="1294.3" cy="832.4" r="47.2" fill="#fb7050"/>
<circle cx="1439" cy="943.9" r="47.2" fill="#fb7050"/>
<circle cx="2490.3" cy="873.1" r="47.2" fill="#fb7050"/>
<circle cx="644.2" cy="1032.4" r="41.3" fill="#fcbba1"/>
<circle cx="1524.4" cy="1050.2" r="35.5" fill="#fff5f0"/>
<circle cx="1711.2" cy="1156.2" r="47.2" fill="#fb7050"/>
<circle cx="1038.4" cy="1173.6" r="53.1" fill="#d32020"/>
<circle cx="2011.4" cy="1241.9" r="59.3" fill="#851124"/>
<circle cx="701.7" cy="1345.8" r="47.2" fill="#fb7050"/>
<circle cx="1306.5" cy="1434.3" r="41.3" fill="#fcbba1"/>
<circle cx="1641.8" cy="1426.9" r="47.2" fill="#fb7050"/>
<circle cx="2046.9" cy="1558.3" r="41.3" fill="#fcbba1"/>
<circle cx="2386.8" cy="1614.5" r="47.2" fill="#fb7050"/>
<circle cx="833.1" cy="1622.1" r="41.3" fill="#fcbba1"/>
<circle cx="1054.4" cy="1665.7" r="53.1" fill="#d32020"/>
<circle cx="866.2" cy="1791.9" r="35.5" fill="#fff5f0"/>
<circle cx="1919.6" cy="1771.3" r="47.2" fill="#fb7050"/>
<circle cx="1262.6" cy="1843.5" r="47.2" fill="#fb7050"/>
<circle cx="1466.7" cy="1963.8" r="41.3" fill="#fcbba1"/>
<circle cx="1469.4" cy="2073.6" r="47.2" fill="#fb7050"/>
<circle cx="1771.4" cy="2084.8" r="59.3" fill="#851124"/>
<circle cx="2020.6" cy="2097.7" r="41.3" fill="#fcbba1"/>
<circle cx="2290" cy="2083" r="47.2" fill="#fb7050"/>
<circle cx="1542.4" cy="2203.4" r="47.2" fill="#fb7050"/>
</g>
<g class="lab">
<text x="1458.5" y="289.0" textLength="150.3" lengthAdjust="spacingAndGlyphs">Gdynia</text>
<text x="1459.8" y="351.5" textLength="131.5" lengthAdjust="spacingAndGlyphs">15516</text>
<text x="1507.8" y="413.7" textLength="161.6" lengthAdjust="spacingAndGlyphs">Gdańsk</text>
<text x="1509.0" y="476.2" textLength="131.5" lengthAdjust="spacingAndGlyphs">17500</text>
<text x="955.7" y="455.2" textLength="176.6" lengthAdjust="spacingAndGlyphs">Koszalin</text>
<text x="954.6" y="517.7" textLength="105.2" lengthAdjust="spacingAndGlyphs">8089</text>
<text x="1706.8" y="483.8" textLength="127.8" lengthAdjust="spacingAndGlyphs">Elbląg</text>
<text x="1705.7" y="546.3" textLength="105.2" lengthAdjust="spacingAndGlyphs">8515</text>
<text x="1922.2" y="625.0" textLength="158.6" lengthAdjust="spacingAndGlyphs">Olsztyn</text>
<text x="1923.5" y="687.5" textLength="131.5" lengthAdjust="spacingAndGlyphs">10839</text>
<text x="577.6" y="732.9" textLength="177.8" lengthAdjust="spacingAndGlyphs">Szczecin</text>
<text x="579.2" y="795.4" textLength="131.5" lengthAdjust="spacingAndGlyphs">11786</text>
<text x="1354.1" y="810.4" textLength="221.0" lengthAdjust="spacingAndGlyphs">Bydgoszcz</text>
<text x="1352.8" y="872.9" textLength="105.2" lengthAdjust="spacingAndGlyphs">9957</text>
<text x="1497.0" y="921.9" textLength="128.5" lengthAdjust="spacingAndGlyphs">Toruń</text>
<text x="1499.3" y="984.4" textLength="131.5" lengthAdjust="spacingAndGlyphs">10792</text>
<text x="2550.0" y="851.1" textLength="192.2" lengthAdjust="spacingAndGlyphs">Białystok</text>
<text x="2550.5" y="913.6" textLength="131.5" lengthAdjust="spacingAndGlyphs">11381</text>
<text x="703.2" y="1010.4" textLength="446.0" lengthAdjust="spacingAndGlyphs">Gorzów Wielkopolski</text>
<text x="702.9" y="1072.9" textLength="105.2" lengthAdjust="spacingAndGlyphs">8343</text>
<text x="1583.3" y="1028.2" textLength="227.4" lengthAdjust="spacingAndGlyphs">Włocławek</text>
<text x="1582.8" y="1090.7" textLength="105.2" lengthAdjust="spacingAndGlyphs">7092</text>
<text x="1771.0" y="1134.2" textLength="113.4" lengthAdjust="spacingAndGlyphs">Płock</text>
<text x="1769.7" y="1196.7" textLength="105.2" lengthAdjust="spacingAndGlyphs">9967</text>
<text x="1098.2" y="1151.6" textLength="159.0" lengthAdjust="spacingAndGlyphs">Poznań</text>
<text x="1098.7" y="1214.1" textLength="131.5" lengthAdjust="spacingAndGlyphs">12901</text>
<text x="2070.3" y="1219.9" textLength="217.4" lengthAdjust="spacingAndGlyphs">Warszawa</text>
<text x="2071.7" y="1282.4" textLength="131.5" lengthAdjust="spacingAndGlyphs">18570</text>
<text x="760.8" y="1323.8" textLength="274.5" lengthAdjust="spacingAndGlyphs">Zielona Góra</text>
<text x="760.2" y="1386.3" textLength="105.2" lengthAdjust="spacingAndGlyphs">9669</text>
<text x="1366.4" y="1412.3" textLength="120.5" lengthAdjust="spacingAndGlyphs">Kalisz</text>
<text x="1365.2" y="1474.8" textLength="105.2" lengthAdjust="spacingAndGlyphs">8010</text>
<text x="1701.0" y="1404.9" textLength="101.4" lengthAdjust="spacingAndGlyphs">Łódź</text>
<text x="1702.0" y="1467.4" textLength="131.5" lengthAdjust="spacingAndGlyphs">10114</text>
<text x="2106.6" y="1536.3" textLength="152.8" lengthAdjust="spacingAndGlyphs">Radom</text>
<text x="2105.6" y="1598.8" textLength="105.2" lengthAdjust="spacingAndGlyphs">8086</text>
<text x="2446.4" y="1592.5" textLength="131.8" lengthAdjust="spacingAndGlyphs">Lublin</text>
<text x="2447.0" y="1655.0" textLength="131.5" lengthAdjust="spacingAndGlyphs">11006</text>
<text x="892.9" y="1600.1" textLength="162.2" lengthAdjust="spacingAndGlyphs">Legnica</text>
<text x="891.5" y="1662.6" textLength="105.2" lengthAdjust="spacingAndGlyphs">7895</text>
<text x="1113.3" y="1643.7" textLength="184.3" lengthAdjust="spacingAndGlyphs">Wrocław</text>
<text x="1114.7" y="1706.2" textLength="131.5" lengthAdjust="spacingAndGlyphs">14201</text>
<text x="925.1" y="1769.9" textLength="221.9" lengthAdjust="spacingAndGlyphs">Wałbrzych</text>
<text x="925.1" y="1832.4" textLength="105.2" lengthAdjust="spacingAndGlyphs">6750</text>
<text x="1979.4" y="1749.3" textLength="125.0" lengthAdjust="spacingAndGlyphs">Kielce</text>
<text x="1979.9" y="1811.8" textLength="131.5" lengthAdjust="spacingAndGlyphs">10121</text>
<text x="1321.6" y="1821.5" textLength="129.2" lengthAdjust="spacingAndGlyphs">Opole</text>
<text x="1322.9" y="1884.0" textLength="131.5" lengthAdjust="spacingAndGlyphs">10722</text>
<text x="1525.8" y="1941.8" textLength="151.9" lengthAdjust="spacingAndGlyphs">Gliwice</text>
<text x="1525.4" y="2004.3" textLength="105.2" lengthAdjust="spacingAndGlyphs">8922</text>
<text x="1529.1" y="2051.6" textLength="193.0" lengthAdjust="spacingAndGlyphs">Katowice</text>
<text x="1529.6" y="2114.1" textLength="131.5" lengthAdjust="spacingAndGlyphs">11032</text>
<text x="1831.1" y="2062.8" textLength="160.3" lengthAdjust="spacingAndGlyphs">Kraków</text>
<text x="1831.7" y="2125.3" textLength="131.5" lengthAdjust="spacingAndGlyphs">16745</text>
<text x="2078.6" y="2075.7" textLength="161.6" lengthAdjust="spacingAndGlyphs">Tarnów</text>
<text x="2079.3" y="2138.2" textLength="105.2" lengthAdjust="spacingAndGlyphs">8451</text>
<text x="2349.9" y="2061.0" textLength="182.8" lengthAdjust="spacingAndGlyphs">Rzeszów</text>
<text x="2350.3" y="2123.5" textLength="131.5" lengthAdjust="spacingAndGlyphs">10640</text>
<text x="1602.1" y="2181.4" textLength="272.1" lengthAdjust="spacingAndGlyphs">Bielsko-Biała</text>
<text x="1602.7" y="2243.9" textLength="131.5" lengthAdjust="spacingAndGlyphs">10156</text>
</g>
<text class="ttl" y="120.5"><tspan x="24.2" textLength="282.7" lengthAdjust="spacingAndGlyphs">Średnia</tspan> <tspan x="339.3" textLength="175.3" lengthAdjust="spacingAndGlyphs">cena</tspan> <tspan x="546.9" textLength="332.8" lengthAdjust="spacingAndGlyphs">ofertowa</tspan> <tspan x="913.6" textLength="352.3" lengthAdjust="spacingAndGlyphs">mieszkań</tspan> <tspan x="1292.5" textLength="109.0" lengthAdjust="spacingAndGlyphs">dla</tspan></text>
<text class="ttl" y="225"><tspan x="218.9" textLength="410.6" lengthAdjust="spacingAndGlyphs">wybranych</tspan> <tspan x="658.4" textLength="204.0" lengthAdjust="spacingAndGlyphs">miast</tspan> <tspan x="892.0" textLength="58.6" lengthAdjust="spacingAndGlyphs">w</tspan> <tspan x="981.9" textLength="240.2" lengthAdjust="spacingAndGlyphs">Polsce</tspan></text>
<path d="M3026.3 14.8 L3026.3 117.6 C3014 101 2996 100 2984.8 101 C2958 104 2932 117 2912.4 129.3 Z" fill="#ffc516"/>
<text class="logo" y="97.9" aria-label="OnGeo.pl"><tspan x="3051.6" textLength="69.6" lengthAdjust="spacingAndGlyphs">O</tspan><tspan x="3126.4" textLength="53.6" lengthAdjust="spacingAndGlyphs">n</tspan><tspan x="3186.6" textLength="62.7" lengthAdjust="spacingAndGlyphs">G</tspan><tspan x="3250.5" textLength="54.0" lengthAdjust="spacingAndGlyphs">e</tspan><tspan x="3307.1" textLength="59.3" lengthAdjust="spacingAndGlyphs">o</tspan><tspan x="3358.2" textLength="39.8" lengthAdjust="spacingAndGlyphs">.</tspan><tspan x="3396.4" textLength="54.3" lengthAdjust="spacingAndGlyphs">p</tspan><tspan x="3454.4" textLength="25.2" lengthAdjust="spacingAndGlyphs">l</tspan></text>
<text class="lt" y="1844.9"><tspan x="2934.9" textLength="104.0" lengthAdjust="spacingAndGlyphs">Ceny</tspan> <tspan x="3060.3" textLength="203.2" lengthAdjust="spacingAndGlyphs">mieszkań</tspan> <tspan x="3278.9" textLength="159.9" lengthAdjust="spacingAndGlyphs">[zł/m²]</tspan></text>
<circle class="c" cx="2976.8" cy="1956.8" r="47.3" fill="#fff5f0"/>
<text class="li" x="3042.0" y="1970.8" textLength="197.7" lengthAdjust="spacingAndGlyphs">6750 - 7092</text>
<circle class="c" cx="2976.8" cy="2062.4" r="47.3" fill="#fcbba1"/>
<text class="li" x="3042.6" y="2076.4" textLength="196.8" lengthAdjust="spacingAndGlyphs">7092 - 8922</text>
<circle class="c" cx="2976.8" cy="2167.9" r="47.3" fill="#fb7050"/>
<text class="li" x="3041.9" y="2181.9" textLength="218.1" lengthAdjust="spacingAndGlyphs">8922 - 11786</text>
<circle class="c" cx="2976.8" cy="2273.4" r="47.3" fill="#d32020"/>
<text class="li" x="3043.2" y="2287.4" textLength="236.7" lengthAdjust="spacingAndGlyphs">11786 - 15516</text>
<circle class="c" cx="2976.8" cy="2378.9" r="47.3" fill="#9b1529"/>
<text class="li" x="3043.3" y="2392.9" textLength="236.6" lengthAdjust="spacingAndGlyphs">15516 - 18570</text>
</svg></body></html>
